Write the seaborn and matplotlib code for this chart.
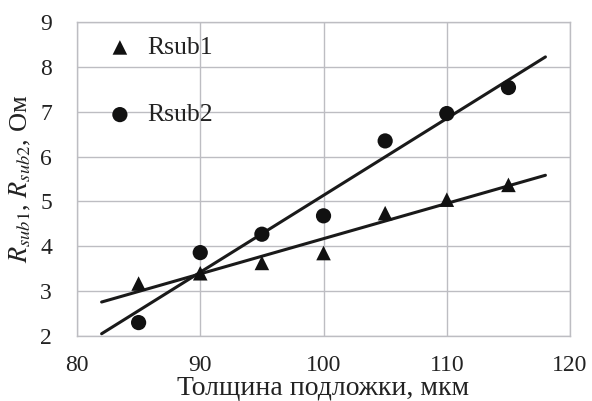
import numpy as np
import pandas as pd
import matplotlib
matplotlib.use("Agg")
import matplotlib.pyplot as plt
import seaborn as sns

# Data
thickness = [85, 90, 95, 100, 105, 110, 115]
rsub1 = [3.17, 3.40, 3.63, 3.85, 4.74, 5.04, 5.37]
rsub2 = [2.30, 3.86, 4.27, 4.68, 6.35, 6.96, 7.54]
trend_x = [82, 118]
x_ticks = [80, 90, 100, 110, 120]
y_ticks = [2, 3, 4, 5, 6, 7, 8, 9]

sns.set_theme(style="white")
plt.rcParams["font.family"] = ["Liberation Serif", "DejaVu Serif"]
plt.rcParams["mathtext.fontset"] = "stix"

fig = plt.figure(figsize=(5.92, 4.01), dpi=100)
ax = fig.add_axes([0.130, 0.162, 0.833, 0.783])

df = pd.DataFrame({"x": thickness, "Rsub1": rsub1, "Rsub2": rsub2})

# Linear trend lines fitted to the data
for col in ["Rsub1", "Rsub2"]:
    k, b = np.polyfit(df["x"], df[col], 1)
    tx = np.array(trend_x, dtype=float)
    sns.lineplot(x=tx, y=k * tx + b, ax=ax, color="#1a1a1a", lw=2.2, zorder=3)

sns.scatterplot(data=df, x="x", y="Rsub1", ax=ax, marker="^", s=110,
                color="#111111", edgecolor="none", label="Rsub1", zorder=4)
sns.scatterplot(data=df, x="x", y="Rsub2", ax=ax, marker="o", s=120,
                color="#111111", edgecolor="none", label="Rsub2", zorder=4)

ax.set_xlim(80, 120)
ax.set_ylim(2, 9)
ax.set_xticks(x_ticks)
ax.set_yticks(y_ticks)
ax.grid(True, color="#bdbdc2", lw=1.0)
for sp in ax.spines.values():
    sp.set_color("#bdbdc2")
    sp.set_linewidth(1.0)
ax.tick_params(axis="both", length=0, labelsize=17, colors="#222222")
ax.tick_params(axis="x", pad=14)
ax.tick_params(axis="y", pad=18)

ax.set_xlabel("Толщина подложки, мкм", fontsize=20, color="#222222", labelpad=0)
ax.set_ylabel(r"$R_{sub1}$, $R_{sub2}$, Ом", fontsize=19, color="#222222", labelpad=5)

leg = ax.legend(loc="upper left", frameon=False, fontsize=18.5, labelspacing=1.72,
                handlelength=1.0, handletextpad=0.55, borderpad=0, borderaxespad=0,
                bbox_to_anchor=(0.061, 0.955))
for t in leg.get_texts():
    t.set_color("#222222")

fig.savefig("out.png", dpi=100)
